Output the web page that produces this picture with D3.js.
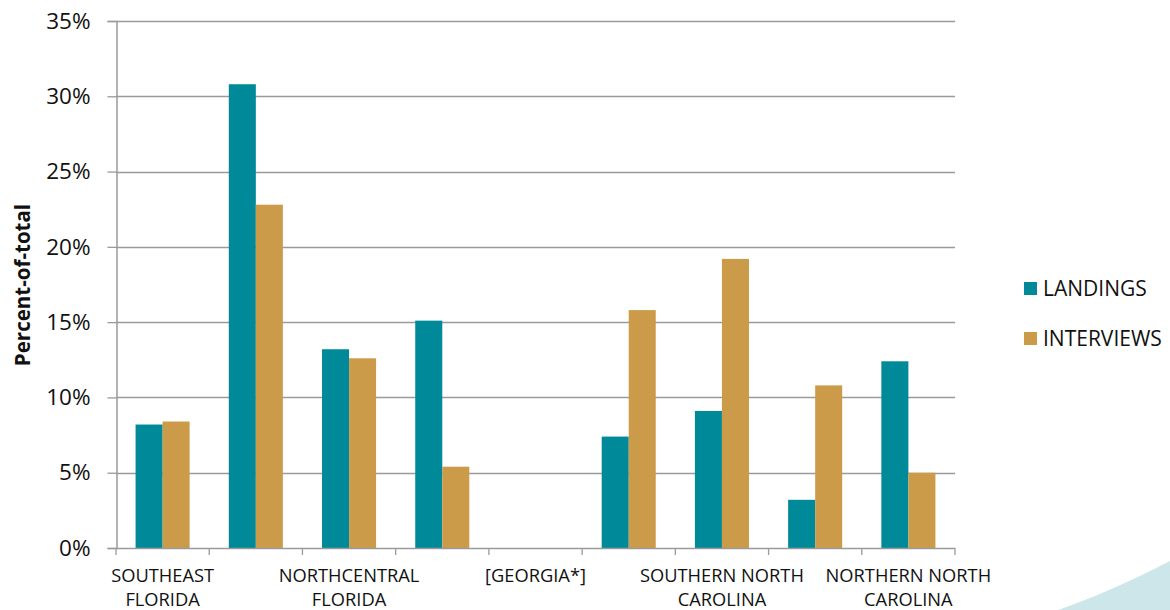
<!DOCTYPE html>
<html><head><meta charset="utf-8">
<script src="https://cdn.jsdelivr.net/npm/d3@7"></script>
<style>html,body{margin:0;padding:0;background:#fff;}svg{display:block;}</style>
</head><body>
<svg id="c" width="1170" height="610"></svg>
<script>
// Category labels as displayed (unlabelled slots are shown blank in the reference)
const categories = ["SOUTHEAST FLORIDA", "", "NORTHCENTRAL FLORIDA", "", "[GEORGIA*]", "", "SOUTHERN NORTH CAROLINA", "", "NORTHERN NORTH CAROLINA"];
const seriesNames = ["LANDINGS", "INTERVIEWS"];
const landings   = [8.2, 30.8, 13.2, 15.1, 0, 7.4, 9.1, 3.2, 12.4];
const interviews = [8.4, 22.8, 12.6, 5.4, 0, 15.8, 19.2, 10.8, 5.0];
const yTicks = [0, 5, 10, 15, 20, 25, 30, 35];
const colors = ["#008999", "#cc9b4a"];

const svg = d3.select("#c");
const L = 116, R = 955, T = 21, B = 548;
const font = "'Open Sans', sans-serif";

// decorative corner shape
svg.append("path")
  .attr("d", "M1058,610 Q1110,592 1170,561 L1170,610 Z")
  .attr("fill", "#cde6ea");

const idx = d3.range(categories.length);
const x0 = d3.scaleBand().domain(idx).range([L, R]).padding(0);
const step = x0.step();
const x1 = d3.scaleBand().domain(seriesNames).range([step * 0.21, step * 0.79]).padding(0);
const y = d3.scaleLinear().domain([0, 35]).range([B, T]);

// gridlines
svg.append("g").selectAll("line").data(yTicks.filter(d => d > 0)).join("line")
  .attr("x1", L).attr("x2", R)
  .attr("y1", d => Math.round(y(d)) + 0.5).attr("y2", d => Math.round(y(d)) + 0.5)
  .attr("stroke", "#9a9a9a").attr("stroke-width", 1.3);

// y axis
const yAxis = d3.axisLeft(y).tickValues(yTicks).tickFormat(d => d + "%").tickSize(9).tickPadding(17);
const gy = svg.append("g").attr("transform", `translate(${L + 0.5},0)`).call(yAxis);
gy.select(".domain").attr("stroke", "#9a9a9a").attr("stroke-width", 1.5);
gy.selectAll(".tick line").attr("stroke", "#9a9a9a").attr("stroke-width", 1.3);
gy.selectAll(".tick text").attr("font-family", font).attr("font-size", 22.5).attr("fill", "#111");

// bars
const data = idx.map(i => ({i, vals: [landings[i], interviews[i]]}));
const groups = svg.append("g").selectAll("g").data(data).join("g")
  .attr("transform", d => `translate(${x0(d.i)},0)`);
groups.selectAll("rect").data(d => d.vals.map((v, k) => ({k, v}))).join("rect")
  .attr("x", d => x1(seriesNames[d.k]))
  .attr("width", x1.bandwidth())
  .attr("y", d => y(d.v))
  .attr("height", d => B - y(d.v))
  .attr("fill", d => colors[d.k]);

// x axis
const xEdges = idx.concat([categories.length]).map(i => L + i * step);
const gx = svg.append("g");
gx.append("line").attr("x1", L).attr("x2", R).attr("y1", B + 0.5).attr("y2", B + 0.5)
  .attr("stroke", "#9a9a9a").attr("stroke-width", 1.5);
gx.selectAll("line.t").data(xEdges).join("line").attr("class", "t")
  .attr("x1", d => d).attr("x2", d => d).attr("y1", B).attr("y2", B + 7)
  .attr("stroke", "#9a9a9a").attr("stroke-width", 1.3);

// x labels (two lines)
function splitLabel(s) {
  const w = s.split(" ");
  if (w.length <= 1) return [s];
  if (w.length === 2) return w;
  return [w.slice(0, 2).join(" "), w.slice(2).join(" ")];
}
const lab = svg.append("g").selectAll("text").data(idx.filter(i => categories[i] !== "")).join("text")
  .attr("x", i => x0(i) + step / 2)
  .attr("y", 582)
  .attr("text-anchor", "middle")
  .attr("font-family", font).attr("font-size", 18.3).attr("fill", "#111");
lab.each(function(i) {
  const parts = splitLabel(categories[i]);
  d3.select(this).selectAll("tspan").data(parts).join("tspan")
    .attr("x", x0(i) + step / 2)
    .attr("dy", (d, k) => k === 0 ? 0 : 24)
    .text(d => d);
});

// y title
svg.append("text")
  .attr("transform", "translate(30,285) rotate(-90)")
  .attr("text-anchor", "middle")
  .attr("font-family", font).attr("font-weight", "bold").attr("font-size", 20.5).attr("fill", "#111")
  .text("Percent-of-total");

// legend
const lg = svg.append("g").selectAll("g").data(seriesNames).join("g")
  .attr("transform", (d, k) => `translate(1024,${282 + k * 50})`);
lg.append("rect").attr("width", 13).attr("height", 13).attr("fill", (d, k) => colors[k]);
lg.append("text").attr("x", 19).attr("y", 14).attr("font-family", font).attr("font-size", 21)
  .attr("fill", "#111").text(d => d);
</script>
</body></html>
